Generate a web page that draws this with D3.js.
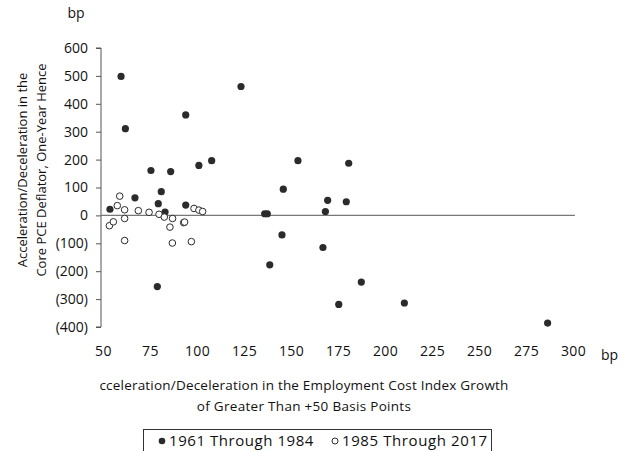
<!DOCTYPE html>
<html>
<head>
<meta charset="utf-8">
<script src="https://cdn.jsdelivr.net/npm/d3@7"></script>
<style>
  html, body { margin: 0; padding: 0; background: #fff; }
  svg { display: block; }
  text { font-family: "Open Sans", "Liberation Sans", sans-serif; fill: #111; }
</style>
</head>
<body>
<svg id="chart" width="631" height="451"></svg>
<script>
// ECI acceleration (bp) vs. core PCE acceleration one year later (bp)
const early = [ // 1961 through 1984
  [53.7, 22], [59.6, 498], [61.9, 311], [67, 63], [75.5, 161], [79.4, 42],
  [78.9, -255], [81, 85], [83, 12], [86, 157], [94, 360], [94, 37],
  [101, 179], [107.8, 196], [123.4, 462], [136, 6], [137.4, 6], [138.7, -177],
  [145.2, -70], [145.9, 94], [153.7, 196], [167, -115], [168.3, 14], [169.5, 54],
  [175.4, -319], [179.4, 49], [180.7, 187], [187.4, -239], [210.3, -314], [286.5, -386]
];
const late = [ // 1985 through 2017
  [53.4, -37], [55.5, -23], [57.6, 35], [58.9, 69], [61.5, 20], [61.5, -11],
  [61.5, -90], [68.8, 17], [74.5, 11], [79.8, 4], [82.6, -6], [85.6, -42],
  [87, -11], [86.9, -99], [92.9, -26], [93.4, -24], [97, -94], [98.4, 25],
  [101, 19], [103, 14]
];
const xTicks = [50, 75, 100, 125, 150, 175, 200, 225, 250, 275, 300];
const yTicks = [600, 500, 400, 300, 200, 100, 0, -100, -200, -300, -400];
const seriesNames = ["1961 Through 1984", "1985 Through 2017"];
const xTitle = ["cceleration/Deceleration in the Employment Cost Index Growth",
                "of Greater Than +50 Basis Points"];
const yTitle = ["Acceleration/Deceleration in the", "Core PCE Deflator, One-Year Hence"];

const svg = d3.select("#chart");
const x = d3.scaleLinear().domain([50, 300]).range([103, 573]);
const y = d3.scaleLinear().domain([-400, 600]).range([327, 48]);
const fmt = v => v < 0 ? "(" + Math.abs(v) + ")" : String(v);

// y axis
const yAxis = svg.append("g")
  .attr("transform", `translate(${x(50) - 2},0)`)
  .call(d3.axisLeft(y).tickValues(yTicks).tickFormat(fmt).tickSize(5).tickPadding(8));
yAxis.select(".domain").attr("stroke", "#555").attr("d", `M-5,${y(600)}H0V${y(-400)}H-5`);
yAxis.selectAll(".tick line").attr("stroke", "#555");
yAxis.selectAll(".tick text").style("font-size", "14px").attr("fill", "#111");

// x tick labels only (no axis line)
const xAxis = svg.append("g")
  .attr("transform", `translate(0,${y(-400) + 13})`)
  .call(d3.axisBottom(x).tickValues(xTicks).tickSize(0).tickPadding(6));
xAxis.select(".domain").remove();
xAxis.selectAll(".tick text").style("font-size", "14px").style("letter-spacing", "0.4px").attr("fill", "#111");

// unit labels
svg.append("text").attr("x", 76).attr("y", 18).attr("text-anchor", "middle")
  .style("font-size", "14px").text("bp");
svg.append("text").attr("x", 601).attr("y", y(-400) + 33)
  .style("font-size", "14px").text("bp");

// zero line
svg.append("line")
  .attr("x1", x(50) - 2).attr("x2", x(301))
  .attr("y1", y(0)).attr("y2", y(0))
  .attr("stroke", "#777").attr("stroke-width", 1.2);

// points
svg.append("g").selectAll("circle").data(early).join("circle")
  .attr("cx", d => x(d[0])).attr("cy", d => y(d[1])).attr("r", 3.6)
  .attr("fill", "#2b2b2b");
svg.append("g").selectAll("circle").data(late).join("circle")
  .attr("cx", d => x(d[0])).attr("cy", d => y(d[1])).attr("r", 3.3)
  .attr("fill", "#fff").attr("stroke", "#2b2b2b").attr("stroke-width", 1);

// axis titles
svg.append("text").attr("text-anchor", "middle")
  .attr("transform", "translate(27,170) rotate(-90)")
  .style("font-size", "13px")
  .selectAll("tspan").data(yTitle).join("tspan")
  .attr("x", 0).attr("dy", (d, i) => i ? 19 : 0).text(d => d);

svg.append("text").attr("text-anchor", "middle")
  .style("font-size", "13.5px")
  .selectAll("tspan").data(xTitle).join("tspan")
  .attr("x", 304).attr("y", (d, i) => 390 + i * 21)
  .style("letter-spacing", (d, i) => i ? "0.3px" : "0.2px").text(d => d);

// legend
const lg = svg.append("g");
lg.append("rect").attr("x", 143.5).attr("y", 429.5).attr("width", 348).attr("height", 30)
  .attr("fill", "none").attr("stroke", "#333");
lg.append("circle").attr("cx", 162).attr("cy", 441).attr("r", 3.3).attr("fill", "#2b2b2b");
lg.append("text").attr("x", 169).attr("y", 446).style("font-size", "15px")
  .style("letter-spacing", "0.55px").text(seriesNames[0]);
lg.append("circle").attr("cx", 335).attr("cy", 441).attr("r", 3).attr("fill", "#fff")
  .attr("stroke", "#2b2b2b");
lg.append("text").attr("x", 342).attr("y", 446).style("font-size", "15px")
  .style("letter-spacing", "0.6px").text(seriesNames[1]);
</script>
</body>
</html>
